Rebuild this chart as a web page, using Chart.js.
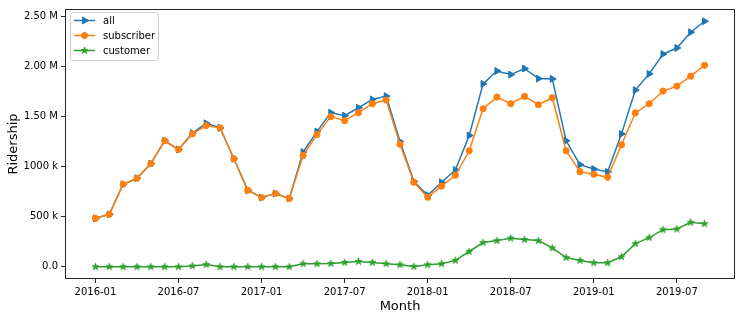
<!DOCTYPE html>
<html>
<head>
<meta charset="utf-8">
<script src="https://cdn.jsdelivr.net/npm/chart.js@4/dist/chart.umd.min.js"></script>
<style>
  html, body { margin: 0; padding: 0; background: #fff; }
  #chart { display: block; }
</style>
</head>
<body>
<canvas id="chart" width="742" height="320"></canvas>
<script>
const months = [
    '2016-01', '2016-02', '2016-03', '2016-04', '2016-05', '2016-06', '2016-07', '2016-08', '2016-09', '2016-10', '2016-11', '2016-12',
    '2017-01', '2017-02', '2017-03', '2017-04', '2017-05', '2017-06', '2017-07', '2017-08', '2017-09', '2017-10', '2017-11', '2017-12',
    '2018-01', '2018-02', '2018-03', '2018-04', '2018-05', '2018-06', '2018-07', '2018-08', '2018-09', '2018-10', '2018-11', '2018-12',
    '2019-01', '2019-02', '2019-03', '2019-04', '2019-05', '2019-06', '2019-07', '2019-08', '2019-09'
];

const allRides = [
    483000, 523000, 823000, 883000, 1029000, 1257000, 1171000, 1334000, 1432000, 1386000, 1078000, 764000,
    691000, 731000, 681000, 1144000, 1349000, 1538000, 1508000, 1587000, 1670000, 1703000, 1250000, 853000,
    714000, 843000, 966000, 1310000, 1825000, 1954000, 1918000, 1978000, 1878000, 1875000, 1257000, 1019000,
    975000, 946000, 1326000, 1763000, 1925000, 2123000, 2183000, 2341000, 2450000
];

const subscriberRides = [
    483000, 523000, 823000, 883000, 1029000, 1257000, 1171000, 1326000, 1409000, 1386000, 1078000, 764000,
    691000, 731000, 681000, 1111000, 1319000, 1498000, 1458000, 1538000, 1627000, 1664000, 1222000, 843000,
    694000, 804000, 913000, 1157000, 1577000, 1693000, 1627000, 1700000, 1617000, 1687000, 1157000, 949000,
    923000, 893000, 1217000, 1535000, 1627000, 1753000, 1803000, 1902000, 2011000
];

const customerRides = [
    0, 0, 0, 0, 0, 0, 0, 8000, 22000, 0, 0, 0,
    0, 0, 0, 30000, 30000, 33000, 43000, 53000, 43000, 30000, 20000, 3000,
    20000, 30000, 63000, 152000, 241000, 261000, 285000, 271000, 261000, 188000, 92000, 63000,
    40000, 40000, 99000, 231000, 291000, 370000, 377000, 443000, 430000
];

const xTickMonths = ['2016-01', '2016-07', '2017-01', '2017-07', '2018-01', '2018-07', '2019-01', '2019-07'];
const yTickValues = [0, 500000, 1000000, 1500000, 2000000, 2500000];

const BLUE = '#1f77b4';
const ORANGE = '#ff7f0e';
const GREEN = '#2ca02c';
const FONT = "'DejaVu Sans', sans-serif";

// matplotlib-like filled star marker
function makeStar(color) {
    const c = document.createElement('canvas');
    c.width = 9;
    c.height = 9;
    const g = c.getContext('2d');
    const outer = 3.7, inner = outer * 0.382;
    g.beginPath();
    for (let i = 0; i < 10; i++) {
        const r = i % 2 === 0 ? outer : inner;
        const a = -Math.PI / 2 + i * Math.PI / 5;
        const px = 4.5 + r * Math.cos(a);
        const py = 4.6 + r * Math.sin(a);
        if (i === 0) g.moveTo(px, py); else g.lineTo(px, py);
    }
    g.closePath();
    g.fillStyle = color;
    g.fill();
    g.lineWidth = 0.8;
    g.strokeStyle = color;
    g.stroke();
    return c;
}
const starImg = makeStar(GREEN);

const toPoints = values => values.map((v, i) => ({ x: i, y: v }));

function formatRidership(v) {
    if (v === 0) return '0.0';
    if (v <= 1000000) return (v / 1000) + ' k';
    return (v / 1000000).toFixed(2) + ' M';
}

const frameAndLegend = {
    id: 'frameAndLegend',
    afterDraw(chart) {
        const { ctx, chartArea } = chart;
        ctx.save();
        // axes box on all four sides
        ctx.strokeStyle = '#262626';
        ctx.lineWidth = 1;
        ctx.strokeRect(Math.round(chartArea.left) + 0.5, Math.round(chartArea.top) + 0.5,
            Math.round(chartArea.right - chartArea.left) - 1, Math.round(chartArea.bottom - chartArea.top) - 1);

        // legend in the upper left corner
        const bx = 70.5, by = 12.5, bw = 88, bh = 48, r = 3;
        ctx.beginPath();
        ctx.moveTo(bx + r, by);
        ctx.arcTo(bx + bw, by, bx + bw, by + bh, r);
        ctx.arcTo(bx + bw, by + bh, bx, by + bh, r);
        ctx.arcTo(bx, by + bh, bx, by, r);
        ctx.arcTo(bx, by, bx + bw, by, r);
        ctx.closePath();
        ctx.fillStyle = 'rgba(255,255,255,0.8)';
        ctx.fill();
        ctx.strokeStyle = '#cccccc';
        ctx.stroke();

        ctx.font = '10px ' + FONT;
        ctx.textBaseline = 'middle';
        chart.data.datasets.forEach((ds, i) => {
            const y = 20.5 + i * 15;
            ctx.strokeStyle = ds.borderColor;
            ctx.lineWidth = 1.5;
            ctx.beginPath();
            ctx.moveTo(74, y);
            ctx.lineTo(95, y);
            ctx.stroke();
            ctx.fillStyle = ds.pointBackgroundColor;
            ctx.strokeStyle = ds.pointBorderColor;
            ctx.lineWidth = 1;
            Chart.helpers.drawPoint(ctx, {
                pointStyle: ds.pointStyle,
                rotation: ds.pointRotation || 0,
                radius: ds.pointRadius,
                borderWidth: 1
            }, 84.5, y);
            ctx.fillStyle = '#000';
            ctx.fillText(ds.label, 103, y + 0.5);
        });
        ctx.restore();
    }
};

new Chart(document.getElementById('chart'), {
    type: 'line',
    data: {
        datasets: [
            {
                label: 'all',
                data: toPoints(allRides),
                borderColor: BLUE,
                backgroundColor: BLUE,
                pointBackgroundColor: BLUE,
                pointBorderColor: BLUE,
                pointStyle: 'triangle',
                pointRotation: 90,
                pointRadius: 4,
                pointBorderWidth: 1,
                borderWidth: 1.5,
                order: 3
            },
            {
                label: 'subscriber',
                data: toPoints(subscriberRides),
                borderColor: ORANGE,
                backgroundColor: ORANGE,
                pointBackgroundColor: ORANGE,
                pointBorderColor: ORANGE,
                pointStyle: 'circle',
                pointRadius: 3.1,
                pointBorderWidth: 1,
                borderWidth: 1.5,
                order: 2
            },
            {
                label: 'customer',
                data: toPoints(customerRides),
                borderColor: GREEN,
                backgroundColor: GREEN,
                pointBackgroundColor: GREEN,
                pointBorderColor: GREEN,
                pointStyle: starImg,
                pointRadius: 3.5,
                pointBorderWidth: 1,
                borderWidth: 1.5,
                order: 1
            }
        ]
    },
    options: {
        responsive: false,
        animation: false,
        devicePixelRatio: 1,
        layout: { padding: { top: 7, right: 7, left: 0, bottom: 0 } },
        plugins: {
            legend: { display: false },
            tooltip: { enabled: false }
        },
        scales: {
            x: {
                type: 'linear',
                min: -2.2,
                max: 46.2,
                afterFit: s => { s.height = 41; },
                afterBuildTicks: s => { s.ticks = xTickMonths.map(m => ({ value: months.indexOf(m) })); },
                grid: { drawOnChartArea: false, drawTicks: true, tickLength: 4, tickColor: '#262626', lineWidth: 1 },
                border: { display: false },
                ticks: {
                    color: '#000',
                    font: { family: FONT, size: 10 },
                    padding: 3,
                    maxRotation: 0,
                    autoSkip: false,
                    callback: v => months[v]
                },
                title: {
                    display: true,
                    text: 'Month',
                    color: '#000',
                    font: { family: FONT, size: 13 },
                    padding: { top: 0, bottom: 6 }
                }
            },
            y: {
                min: -122500,
                max: 2572500,
                afterFit: s => { s.width = 65; },
                afterBuildTicks: s => { s.ticks = yTickValues.map(v => ({ value: v })); },
                grid: { drawOnChartArea: false, drawTicks: true, tickLength: 4, tickColor: '#262626', lineWidth: 1 },
                border: { display: false },
                ticks: {
                    color: '#000',
                    font: { family: FONT, size: 10 },
                    padding: 3,
                    callback: v => formatRidership(v)
                },
                title: {
                    display: true,
                    text: 'Ridership',
                    color: '#000',
                    font: { family: FONT, size: 13 },
                    padding: { top: 6, bottom: 0 }
                }
            }
        }
    },
    plugins: [frameAndLegend]
});
</script>
</body>
</html>
